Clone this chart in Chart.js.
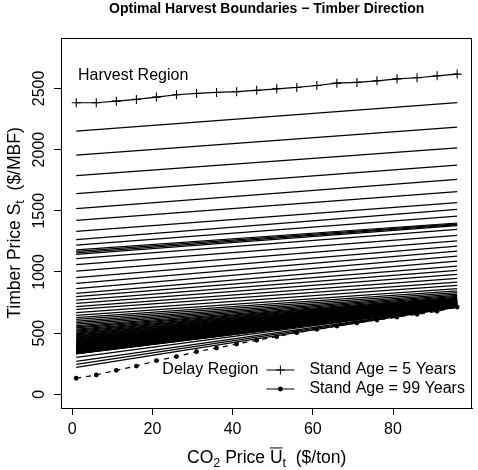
<!DOCTYPE html>
<html lang="en">
<head>
    <meta charset="UTF-8">
    <script src="https://cdn.jsdelivr.net/npm/chart.js@4.4.1/dist/chart.umd.min.js"></script>
    <title>Optimal Harvest Boundaries - Timber Direction</title>
    <style>
        body { margin: 0; background: #fff; }
        canvas { display: block; }
    </style>
</head>
<body>

    <canvas id="myChart" width="478" height="470"></canvas>

    <script>
        // CO2 price grid ($/ton)
        const co2Price = [1, 6, 11, 16, 21, 26, 31, 36, 41, 46, 51, 56, 61, 66, 71, 76, 81, 86, 91, 96];

        // stand age 5 boundary (marked with +)
        const age5 = [2383, 2383, 2396, 2410, 2429, 2448, 2459, 2467, 2473, 2484,
                      2497, 2508, 2524, 2543, 2549, 2562, 2578, 2587, 2603, 2617];

        // stand age 99 boundary (dashed, dots)
        const age99 = [131, 158, 196, 231, 275, 308, 348, 378, 411, 441,
                       471, 504, 531, 558, 583, 607, 631, 654, 678, 713];

        // stand ages 6..98: boundary at lowest and highest CO2 price
        const midAges = [];
        for (let a = 6; a <= 98; a++) midAges.push(a);

        const midStart = [
            2150, 1955, 1787, 1640, 1517, 1422, 1332, 1264, 1220,
            1180, 1168, 1156, 1144,
            1109, 1060, 1007, 953, 907, 864, 825, 798, 770, 743, 717, 694, 667, 645, 627,
            612, 598, 585, 573, 562, 552, 542, 533, 524, 516,
            508, 500, 493, 486, 479, 473, 467, 461, 455, 450,
            445, 440, 435, 430, 426, 422, 418, 414, 410, 406,
            402, 399, 396, 393, 390, 387, 384, 381, 378, 375,
            372, 369, 366, 364, 362, 360, 358, 356, 354, 352,
            350, 348, 346, 344, 342, 340, 338, 336, 334, 332,
            330,
            302, 270, 245, 220
        ];
        const midEnd = [
            2383, 2184, 2015, 1873, 1757, 1656, 1566, 1511, 1457,
            1400, 1393, 1386, 1379,
            1348, 1299, 1253, 1212, 1171, 1130, 1089, 1048, 1013, 980, 948, 917, 891, 864, 845,
            830, 818, 808, 800, 793, 787, 782, 778, 774, 771,
            768, 765, 763, 761, 759, 757, 755, 753, 752, 751,
            750, 749, 748, 747, 746, 745, 744, 743, 742, 741,
            740, 739, 738, 737, 736, 735, 734, 733, 732, 731,
            730, 729, 728, 727, 726, 725, 724, 723, 722, 721,
            720, 719, 718, 717, 716, 715, 715, 714, 714, 713,
            713,
            716, 715, 714, 713
        ];

        const xTicks = [0, 20, 40, 60, 80];
        const yTicks = [0, 500, 1000, 1500, 2000, 2500];

        const FONT = '"Liberation Sans", Arial, Helvetica, sans-serif';

        const datasets = [];
        datasets.push({
            label: 'Stand Age = 5 Years',
            data: co2Price.map((x, i) => ({ x: x, y: age5[i] })),
            borderColor: '#000',
            borderWidth: 1.2,
            pointStyle: 'cross',
            pointRadius: 4.5,
            pointBorderWidth: 1.1,
            pointBorderColor: '#000',
        });
        midAges.forEach((a, i) => {
            datasets.push({
                label: 'Age ' + a,
                data: [{ x: co2Price[0], y: midStart[i] }, { x: co2Price[co2Price.length - 1], y: midEnd[i] }],
                borderColor: '#000',
                borderWidth: 1.25,
                pointRadius: 0,
            });
        });
        datasets.push({
            label: 'Stand Age = 99 Years',
            data: co2Price.map((x, i) => ({ x: x, y: age99[i] })),
            borderColor: '#000',
            borderWidth: 1.2,
            borderDash: [5, 5],
            pointStyle: 'circle',
            pointRadius: 2.4,
            pointBackgroundColor: '#000',
            pointBorderColor: '#000',
            pointBorderWidth: 0,
        });

        // draw text pieces with subscripts / overline, centred at x
        function richText(ctx, parts, cx, y, size) {
            const subSize = size * 0.72;
            let w = 0;
            parts.forEach(p => {
                ctx.font = (p.sub ? subSize : size) + 'px ' + FONT;
                p.w = ctx.measureText(p.t).width;
                w += p.w;
            });
            let x = cx - w / 2;
            ctx.textAlign = 'left';
            ctx.textBaseline = 'alphabetic';
            parts.forEach(p => {
                ctx.font = (p.sub ? subSize : size) + 'px ' + FONT;
                ctx.fillText(p.t, x, p.sub ? y + size * 0.25 : y);
                if (p.over) {
                    ctx.beginPath();
                    ctx.lineWidth = 1;
                    ctx.moveTo(x, y - size * 0.86);
                    ctx.lineTo(x + p.w, y - size * 0.86);
                    ctx.stroke();
                }
                x += p.w;
            });
        }

        const decorations = {
            id: 'decorations',
            afterDraw(chart) {
                const ctx = chart.ctx;
                const area = chart.chartArea;
                const xs = chart.scales.x, ys = chart.scales.y;
                ctx.save();
                ctx.fillStyle = '#000';
                ctx.strokeStyle = '#000';

                // plot box
                ctx.lineWidth = 1;
                ctx.strokeRect(Math.round(area.left) + 0.5, Math.round(area.top) + 0.5,
                    Math.round(area.right - area.left) - 1, Math.round(area.bottom - area.top));

                // title
                ctx.font = 'bold 14px ' + FONT;
                ctx.textAlign = 'center';
                ctx.textBaseline = 'alphabetic';
                ctx.fillText('Optimal Harvest Boundaries \u2212 Timber Direction', (area.left + area.right) / 2, 13);

                // y tick labels, rotated like R
                ctx.font = '16px ' + FONT;
                yTicks.forEach(v => {
                    const py = ys.getPixelForValue(v);
                    ctx.save();
                    ctx.translate(44, py);
                    ctx.rotate(-Math.PI / 2);
                    ctx.textAlign = 'center';
                    ctx.textBaseline = 'alphabetic';
                    ctx.fillText(String(v), 0, 0);
                    ctx.restore();
                });

                // axis titles
                richText(ctx, [
                    { t: 'CO' }, { t: '2', sub: true }, { t: ' Price ' },
                    { t: 'U', over: true }, { t: 't', sub: true }, { t: '  ($/ton)' }
                ], (area.left + area.right) / 2, 463, 17.5);

                ctx.save();
                ctx.translate(20, (area.top + area.bottom) / 2);
                ctx.rotate(-Math.PI / 2);
                richText(ctx, [
                    { t: 'Timber Price S' }, { t: 't', sub: true }, { t: '  ($/MBF)' }
                ], 0, 0, 17.5);
                ctx.restore();

                // region labels
                ctx.font = '16px ' + FONT;
                ctx.textBaseline = 'middle';
                ctx.textAlign = 'left';
                ctx.fillText('Harvest Region', area.left + 17, area.top + 38);
                ctx.textAlign = 'right';
                ctx.fillText('Delay Region', area.right - 214, area.bottom - 38);

                // legend (bottom right, no box)
                const row1 = area.bottom - 38, row2 = area.bottom - 19;
                const sx0 = area.right - 206, sx1 = area.right - 178, smid = (sx0 + sx1) / 2;
                ctx.lineWidth = 1;
                ctx.beginPath();
                ctx.moveTo(sx0, row1); ctx.lineTo(sx1, row1);
                ctx.moveTo(smid - 4.5, row1); ctx.lineTo(smid + 4.5, row1);
                ctx.moveTo(smid, row1 - 4.5); ctx.lineTo(smid, row1 + 4.5);
                ctx.moveTo(sx0, row2); ctx.lineTo(sx1, row2);
                ctx.stroke();
                ctx.beginPath();
                ctx.arc(smid, row2, 2.4, 0, Math.PI * 2);
                ctx.fill();
                ctx.textAlign = 'left';
                ctx.fillText('Stand Age = 5 Years', area.right - 163, row1);
                ctx.fillText('Stand Age = 99 Years', area.right - 163, row2);

                ctx.restore();
            }
        };

        const ctx = document.getElementById('myChart').getContext('2d');
        new Chart(ctx, {
            type: 'line',
            data: { datasets: datasets },
            options: {
                responsive: false,
                animation: false,
                devicePixelRatio: 1,
                layout: { padding: { top: 38, right: 2, left: 0, bottom: 0 } },
                plugins: {
                    legend: { display: false },
                    tooltip: { enabled: false },
                    title: { display: false },
                },
                scales: {
                    x: {
                        type: 'linear',
                        min: -2.8,
                        max: 99.8,
                        afterBuildTicks: (scale) => { scale.ticks = xTicks.map(v => ({ value: v })); },
                        afterFit: (scale) => { scale.height = 62; },
                        grid: { drawOnChartArea: false, drawTicks: true, tickLength: 7, color: '#000' },
                        border: { display: true, color: '#000' },
                        ticks: {
                            color: '#000',
                            padding: 5,
                            maxRotation: 0,
                            font: { size: 16, family: FONT },
                        },
                    },
                    y: {
                        type: 'linear',
                        min: -112,
                        max: 2912,
                        afterBuildTicks: (scale) => { scale.ticks = yTicks.map(v => ({ value: v })); },
                        afterFit: (scale) => { scale.width = 61; },
                        grid: { drawOnChartArea: false, drawTicks: true, tickLength: 7, color: '#000' },
                        border: { display: true, color: '#000' },
                        ticks: { display: false },
                    },
                },
            },
            plugins: [decorations],
        });
    </script>

</body>
</html>
